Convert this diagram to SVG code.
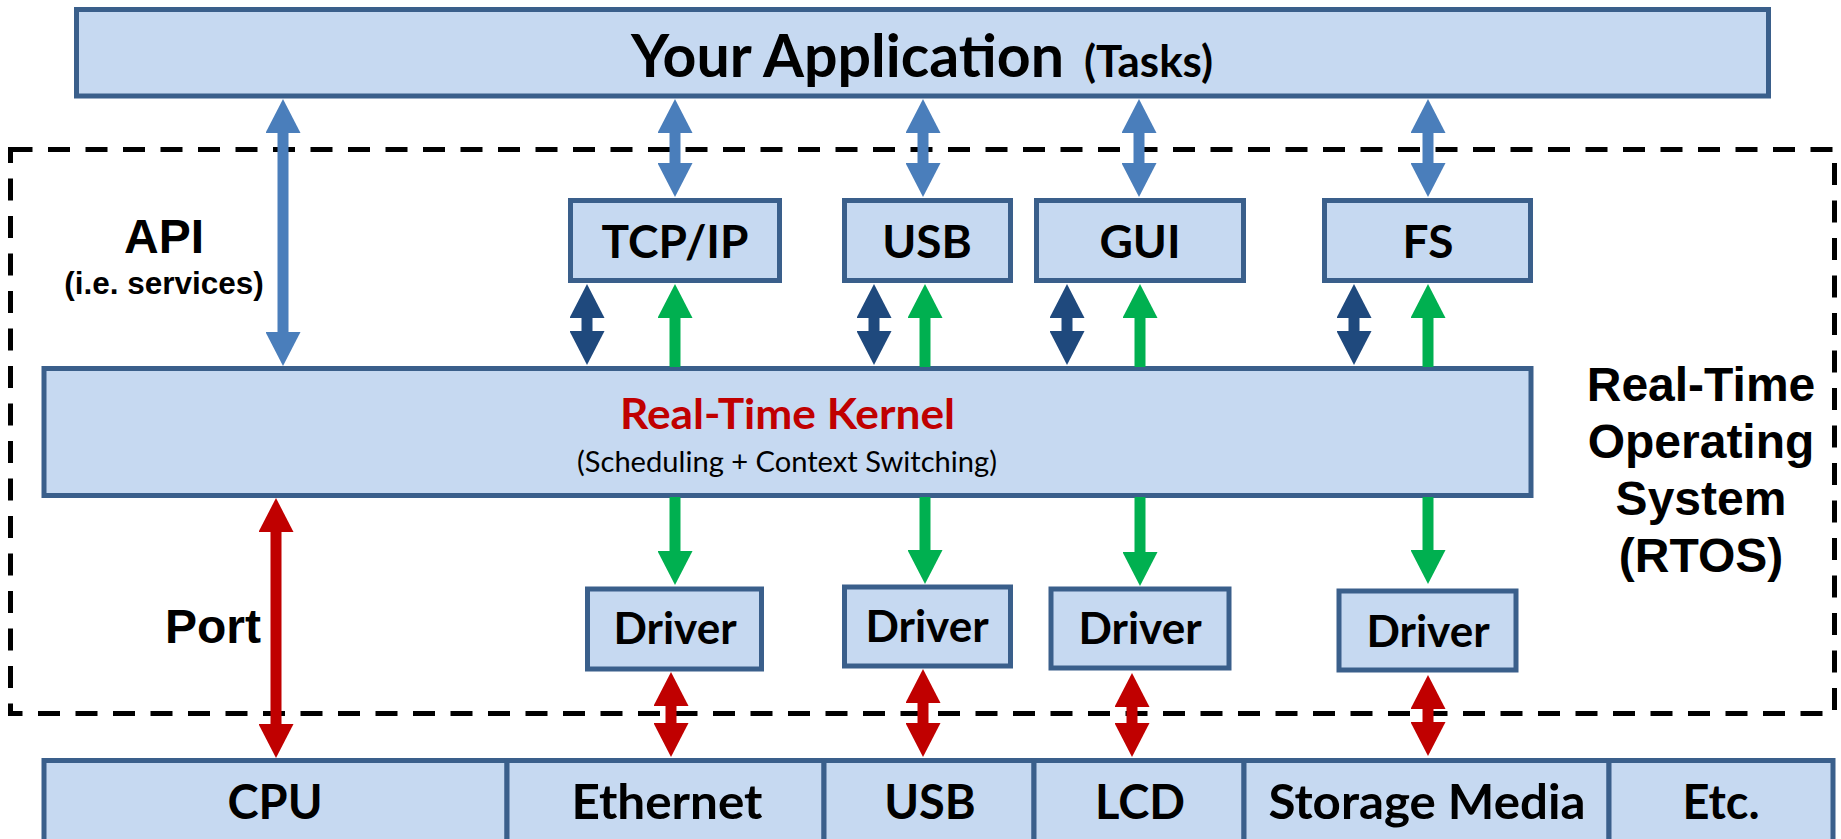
<svg xmlns="http://www.w3.org/2000/svg" width="1841" height="839" viewBox="0 0 1841 839">
  <style>
    .box { fill: #C6D9F1; stroke: #3A5F8B; stroke-width: 5; }
    .lbl { font-family: Lato, "Open Sans", sans-serif; font-weight: bold; fill: #000; text-anchor: middle; }
    .side { font-family: "Liberation Sans", Arial, sans-serif; font-weight: bold; fill: #000; text-anchor: middle; }
    .frame { fill: none; stroke: #000; stroke-width: 5; stroke-dasharray: 22 15.5; }
    .lb { stroke: #4A7EBB; stroke-width: 11; fill: none; marker-start: url(#hb); marker-end: url(#hb); }
    .db { stroke: #1F497D; stroke-width: 11; fill: none; marker-start: url(#hd); marker-end: url(#hd); }
    .gr { stroke: #00B050; stroke-width: 11; fill: none; marker-end: url(#hg); }
    .rd { stroke: #C00000; stroke-width: 11; fill: none; marker-start: url(#hr); marker-end: url(#hr); }
  </style>
  <defs>
    <marker id="hb" viewBox="0 0 34 35" refX="1" refY="17.5" markerWidth="34" markerHeight="35" markerUnits="userSpaceOnUse" orient="auto-start-reverse">
      <path d="M0,0 L34,17.5 L0,35 Z" fill="#4A7EBB"/>
    </marker>
    <marker id="hd" viewBox="0 0 34 35" refX="1" refY="17.5" markerWidth="34" markerHeight="35" markerUnits="userSpaceOnUse" orient="auto-start-reverse">
      <path d="M0,0 L34,17.5 L0,35 Z" fill="#1F497D"/>
    </marker>
    <marker id="hg" viewBox="0 0 34 35" refX="1" refY="17.5" markerWidth="34" markerHeight="35" markerUnits="userSpaceOnUse" orient="auto-start-reverse">
      <path d="M0,0 L34,17.5 L0,35 Z" fill="#00B050"/>
    </marker>
    <marker id="hr" viewBox="0 0 34 35" refX="1" refY="17.5" markerWidth="34" markerHeight="35" markerUnits="userSpaceOnUse" orient="auto-start-reverse">
      <path d="M0,0 L34,17.5 L0,35 Z" fill="#C00000"/>
    </marker>
  </defs>

  <rect width="1841" height="839" fill="#fff"/>

  <!-- RTOS boundary -->
  <g id="rtos">
    <rect class="frame" x="10.5" y="149.5" width="1824" height="564"/>
    <text class="side" x="1701" y="401" font-size="48">Real-Time</text>
    <text class="side" x="1701" y="458" font-size="48">Operating</text>
    <text class="side" x="1701" y="515" font-size="48">System</text>
    <text class="side" x="1701" y="572" font-size="48">(RTOS)</text>
  </g>

  <g id="api-label">
    <text class="side" x="164" y="253" font-size="48">API</text>
    <text class="side" x="164" y="294" font-size="31.5">(i.e. services)</text>
  </g>
  <g id="port-label">
    <text class="side" x="213" y="643" font-size="48">Port</text>
  </g>

  <!-- application -->
  <g id="app">
    <rect class="box" x="76.5" y="9.5" width="1692" height="86.5"/>
    <text class="lbl" x="631" y="77" font-size="60" text-anchor="start" style="text-anchor:start" textLength="433" lengthAdjust="spacingAndGlyphs">Your Application</text>
    <text class="lbl" x="1084" y="77" font-size="44" text-anchor="start" style="text-anchor:start" textLength="129" lengthAdjust="spacingAndGlyphs">(Tasks)</text>
  </g>

  <!-- middleware -->
  <g id="tcpip">
    <rect class="box" x="570.5" y="200.5" width="209" height="80"/>
    <text class="lbl" x="675" y="258" font-size="46">TCP/IP</text>
  </g>
  <g id="usb-stack">
    <rect class="box" x="844.5" y="200.5" width="166" height="80"/>
    <text class="lbl" x="927" y="258" font-size="46">USB</text>
  </g>
  <g id="gui">
    <rect class="box" x="1036.5" y="200.5" width="207" height="80"/>
    <text class="lbl" x="1140" y="258" font-size="46">GUI</text>
  </g>
  <g id="fs">
    <rect class="box" x="1324.5" y="200.5" width="206" height="80"/>
    <text class="lbl" x="1428" y="258" font-size="46">FS</text>
  </g>

  <!-- kernel -->
  <g id="kernel">
    <rect class="box" x="44" y="368.5" width="1487" height="127"/>
    <text class="lbl" x="787.5" y="429" font-size="42" style="fill:#C00000" textLength="335" lengthAdjust="spacingAndGlyphs">Real-Time Kernel</text>
    <text x="787" y="472" font-size="29" font-family="Lato, 'Open Sans', sans-serif" text-anchor="middle" fill="#000" textLength="420" lengthAdjust="spacingAndGlyphs">(Scheduling + Context Switching)</text>
  </g>

  <!-- drivers -->
  <g id="driver-eth">
    <rect class="box" x="587.5" y="589" width="174" height="80"/>
    <text class="lbl" x="675" y="644" font-size="44">Driver</text>
  </g>
  <g id="driver-usb">
    <rect class="box" x="844.5" y="587" width="166" height="79"/>
    <text class="lbl" x="927" y="642" font-size="44">Driver</text>
  </g>
  <g id="driver-lcd">
    <rect class="box" x="1051" y="589" width="178" height="79"/>
    <text class="lbl" x="1140" y="644" font-size="44">Driver</text>
  </g>
  <g id="driver-storage">
    <rect class="box" x="1339" y="591" width="177" height="79"/>
    <text class="lbl" x="1428" y="647" font-size="44">Driver</text>
  </g>

  <!-- hardware row -->
  <g id="cpu">
    <rect class="box" x="44" y="760.5" width="463" height="95"/>
    <text class="lbl" x="275" y="819" font-size="47">CPU</text>
  </g>
  <g id="ethernet">
    <rect class="box" x="507" y="760.5" width="317" height="95"/>
    <text class="lbl" x="667" y="819" font-size="48" textLength="191" lengthAdjust="spacingAndGlyphs">Ethernet</text>
  </g>
  <g id="usb-hw">
    <rect class="box" x="824" y="760.5" width="210" height="95"/>
    <text class="lbl" x="930" y="819" font-size="47">USB</text>
  </g>
  <g id="lcd">
    <rect class="box" x="1034" y="760.5" width="210" height="95"/>
    <text class="lbl" x="1140" y="819" font-size="47">LCD</text>
  </g>
  <g id="storage">
    <rect class="box" x="1244" y="760.5" width="365" height="95"/>
    <text class="lbl" x="1427" y="819" font-size="48" textLength="317" lengthAdjust="spacingAndGlyphs">Storage Media</text>
  </g>
  <g id="etc">
    <rect class="box" x="1609" y="760.5" width="224" height="95"/>
    <text class="lbl" x="1721" y="819" font-size="47">Etc.</text>
  </g>

  <!-- connectors -->
  <g id="connectors">
    <!-- application <-> services -->
    <line class="lb" x1="283" y1="132" x2="283" y2="333"/>
    <line class="lb" x1="675" y1="132" x2="675" y2="164"/>
    <line class="lb" x1="923" y1="132" x2="923" y2="164"/>
    <line class="lb" x1="1139" y1="132" x2="1139" y2="164"/>
    <line class="lb" x1="1428" y1="132" x2="1428" y2="164"/>
    <!-- middleware <-> kernel -->
    <line class="db" x1="587" y1="317" x2="587" y2="332"/>
    <line class="db" x1="874" y1="317" x2="874" y2="332"/>
    <line class="db" x1="1067" y1="317" x2="1067" y2="332"/>
    <line class="db" x1="1354" y1="317" x2="1354" y2="332"/>
    <line class="gr" x1="675" y1="367" x2="675" y2="317"/>
    <line class="gr" x1="925" y1="367" x2="925" y2="317"/>
    <line class="gr" x1="1140" y1="367" x2="1140" y2="317"/>
    <line class="gr" x1="1428" y1="367" x2="1428" y2="317"/>
    <!-- kernel -> drivers -->
    <line class="gr" x1="675" y1="497" x2="675" y2="552"/>
    <line class="gr" x1="925" y1="497" x2="925" y2="551"/>
    <line class="gr" x1="1140" y1="497" x2="1140" y2="553"/>
    <line class="gr" x1="1428" y1="497" x2="1428" y2="551"/>
    <!-- port and drivers <-> hardware -->
    <line class="rd" x1="276" y1="531" x2="276" y2="725"/>
    <line class="rd" x1="671" y1="705" x2="671" y2="724"/>
    <line class="rd" x1="923" y1="702" x2="923" y2="724"/>
    <line class="rd" x1="1132" y1="706" x2="1132" y2="724"/>
    <line class="rd" x1="1428" y1="708" x2="1428" y2="723"/>
  </g>
</svg>
